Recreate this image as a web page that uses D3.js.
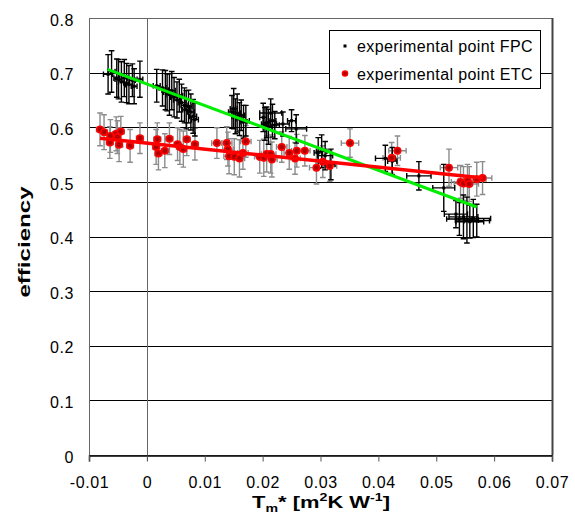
<!DOCTYPE html>
<html>
<head>
<meta charset="utf-8">
<script src="https://cdn.jsdelivr.net/npm/d3@7"></script>
<style>
  body { margin: 0; background: #fff; }
  text { font-family: "Liberation Sans", Arial, sans-serif; fill: #000; }
</style>
</head>
<body>
<svg id="chart" width="575" height="525"></svg>
<script>
// ---- axis ticks ----
const xTicks = [-0.01, 0, 0.01, 0.02, 0.03, 0.04, 0.05, 0.06, 0.07];
const xTickLabels = ["-0.01", "0", "0.01", "0.02", "0.03", "0.04", "0.05", "0.06", "0.07"];
const yTicks = [0, 0.1, 0.2, 0.3, 0.4, 0.5, 0.6, 0.7, 0.8];
const yTickLabels = ["0", "0.1", "0.2", "0.3", "0.4", "0.5", "0.6", "0.7", "0.8"];

// ---- flat plate collector (FPC) measurements ----
const fpcX = [-0.0067, -0.0061, -0.0052, -0.0049, -0.0044, -0.0039, -0.0035, -0.0031, -0.0025, -0.0022, -0.0012,
  0.0017, 0.0027, 0.0032, 0.0035, 0.0039, 0.0043, 0.0047, 0.0052, 0.0056, 0.0060, 0.0065, 0.0068, 0.0072, 0.0076, 0.0080, 0.0083,
  0.0147, 0.0150, 0.0153, 0.0156, 0.0160, 0.0163, 0.0167, 0.0171,
  0.0201, 0.0204, 0.0207, 0.0210, 0.0214, 0.0217, 0.0221, 0.0235, 0.0250, 0.0258,
  0.0296, 0.0302, 0.0308, 0.0318,
  0.0412, 0.0424, 0.0470,
  0.0513, 0.0534, 0.0540, 0.0547, 0.0553, 0.0558, 0.0564, 0.0570];
const fpcY = [0.697, 0.702, 0.690, 0.688, 0.683, 0.690, 0.681, 0.678, 0.686, 0.675, 0.688,
  0.676, 0.672, 0.668, 0.664, 0.660, 0.667, 0.655, 0.650, 0.658, 0.645, 0.640, 0.632, 0.638, 0.628, 0.620, 0.614,
  0.628, 0.634, 0.620, 0.626, 0.615, 0.622, 0.610, 0.612,
  0.618, 0.606, 0.609, 0.601, 0.626, 0.612, 0.604, 0.606, 0.612, 0.597,
  0.553, 0.556, 0.548, 0.532,
  0.543, 0.538, 0.511,
  0.489, 0.441, 0.432, 0.436, 0.430, 0.427, 0.433, 0.429];
const fpcXErr = [0.0008, 0.0006, 0.0005, 0.0006, 0.0005, 0.0005, 0.0005, 0.0006, 0.0005, 0.0005, 0.0005,
  0.0006, 0.0006, 0.0006, 0.0006, 0.0006, 0.0006, 0.0006, 0.0006, 0.0006, 0.0006, 0.0006, 0.0006, 0.0006, 0.0006, 0.0006, 0.0006,
  0.0006, 0.0006, 0.0006, 0.0006, 0.0006, 0.0006, 0.0006, 0.0006,
  0.0006, 0.0006, 0.0006, 0.0006, 0.0019, 0.0006, 0.0008, 0.0011, 0.0007, 0.0018,
  0.0007, 0.0009, 0.0013, 0.0007,
  0.0017, 0.0008, 0.0021,
  0.0019, 0.0020, 0.0022, 0.0025, 0.0020, 0.0024, 0.0030, 0.0022];
const fpcYErr = [0.036, 0.038, 0.035, 0.036, 0.037, 0.034, 0.036, 0.035, 0.030, 0.032, 0.033,
  0.030, 0.033, 0.036, 0.034, 0.038, 0.035, 0.036, 0.033, 0.030, 0.034, 0.032, 0.035, 0.030, 0.033, 0.031, 0.030,
  0.030, 0.037, 0.032, 0.035, 0.030, 0.028, 0.030, 0.028,
  0.026, 0.030, 0.028, 0.032, 0.026, 0.030, 0.025, 0.022, 0.020, 0.026,
  0.028, 0.030, 0.026, 0.028,
  0.024, 0.025, 0.026,
  0.043, 0.025, 0.030, 0.040, 0.042, 0.030, 0.035, 0.030];

// ---- evacuated tube collector (ETC) measurements ----
const etcX = [-0.0081, -0.0074, -0.0063, -0.0053, -0.0045, -0.0051, -0.0064, -0.0048, -0.0029, -0.0012,
  0.0018, 0.0016, 0.0020, 0.0031, 0.0039, 0.0053, 0.0057, 0.0063, 0.0069, 0.0083,
  0.0121, 0.0138, 0.0140, 0.0142, 0.0151, 0.0160, 0.0166, 0.0171, 0.0195, 0.0202, 0.0207, 0.0214, 0.0216, 0.0233, 0.0246, 0.0256, 0.0259, 0.0273,
  0.0293, 0.0304, 0.0316, 0.0351, 0.0423, 0.0433,
  0.0522, 0.0542, 0.0547, 0.0554, 0.0557, 0.0570, 0.0580];
const etcY = [0.596, 0.591, 0.584, 0.588, 0.592, 0.582, 0.572, 0.568, 0.566, 0.580,
  0.578, 0.564, 0.552, 0.557, 0.579, 0.569, 0.564, 0.560, 0.578, 0.569,
  0.571, 0.571, 0.560, 0.547, 0.546, 0.543, 0.553, 0.574, 0.546, 0.544, 0.551, 0.551, 0.541, 0.564, 0.553, 0.543, 0.557, 0.557,
  0.526, 0.537, 0.529, 0.571, 0.544, 0.557,
  0.526, 0.500, 0.497, 0.502, 0.496, 0.505, 0.507];
const etcXErr = [0.0006, 0.0006, 0.0006, 0.0006, 0.0006, 0.0006, 0.0006, 0.0006, 0.0006, 0.0006,
  0.0006, 0.0006, 0.0006, 0.0006, 0.0006, 0.0006, 0.0006, 0.0006, 0.0006, 0.0006,
  0.0009, 0.0009, 0.0009, 0.0009, 0.0009, 0.0009, 0.0009, 0.0009, 0.0009, 0.0009, 0.0009, 0.0009, 0.0009, 0.0009, 0.0009, 0.0009, 0.0009, 0.0009,
  0.0012, 0.0012, 0.0012, 0.0015, 0.0015, 0.0015,
  0.0015, 0.0016, 0.0016, 0.0016, 0.0016, 0.0016, 0.0016];
const etcYErr = [0.030, 0.032, 0.030, 0.031, 0.028, 0.030, 0.029, 0.031, 0.030, 0.028,
  0.030, 0.032, 0.030, 0.031, 0.029, 0.030, 0.032, 0.033, 0.030, 0.029,
  0.028, 0.030, 0.031, 0.032, 0.033, 0.034, 0.030, 0.029, 0.030, 0.034, 0.033, 0.035, 0.032, 0.028, 0.030, 0.029, 0.030, 0.028,
  0.030, 0.029, 0.028, 0.026, 0.028, 0.027,
  0.034, 0.030, 0.031, 0.030, 0.032, 0.031, 0.030];

// ---- linear fits (end points) ----
const fitFpcX = [-0.0068, 0.0570];
const fitFpcY = [0.706, 0.454];
const fitEtcX = [-0.0081, 0.0581];
const fitEtcY = [0.580, 0.507];

// ---- legend ----
const legendLabels = ["experimental point FPC", "experimental point ETC"];

// ---- drawing ----
const svg = d3.select("#chart");
const plotL = 89, plotR = 552, plotT = 18, plotB = 455;

const x = d3.scaleLinear().domain([-0.01, 0.07]).range([plotL, plotR]);
const y = d3.scaleLinear().domain([0, 0.8]).range([plotB, plotT]);

// horizontal grid lines
svg.append("g")
  .selectAll("line")
  .data(yTicks.filter(v => v > 0 && v < 0.8))
  .join("line")
  .attr("x1", plotL).attr("x2", plotR)
  .attr("y1", d => Math.round(y(d)) + 0.5).attr("y2", d => Math.round(y(d)) + 0.5)
  .attr("stroke", "#000").attr("stroke-width", 1);

// plot border
svg.append("rect")
  .attr("x", plotL + 0.5).attr("y", plotT + 0.5)
  .attr("width", plotR - plotL).attr("height", plotB - plotT)
  .attr("fill", "none").attr("stroke", "#666").attr("stroke-width", 1);
svg.append("line")
  .attr("x1", plotR + 0.5).attr("x2", plotR + 0.5)
  .attr("y1", plotT).attr("y2", plotB)
  .attr("stroke", "#444").attr("stroke-width", 2);

// vertical line at zero
svg.append("line")
  .attr("x1", Math.round(x(0)) + 0.5).attr("x2", Math.round(x(0)) + 0.5)
  .attr("y1", plotT).attr("y2", plotB + 6)
  .attr("stroke", "#666").attr("stroke-width", 1);

// x axis
const xAxis = d3.axisBottom(x)
  .tickValues(xTicks)
  .tickFormat((d, i) => xTickLabels[i])
  .tickSize(6)
  .tickPadding(15);
const gx = svg.append("g").attr("transform", `translate(0,${plotB + 0.5})`).call(xAxis);
gx.select(".domain").attr("stroke", "#000").attr("stroke-width", 1.5);
gx.selectAll(".tick line").attr("stroke", "#555");
gx.selectAll(".tick text")
  .attr("font-size", 16).attr("letter-spacing", "0.6px")
  .attr("font-family", "Liberation Sans, Arial, sans-serif").attr("fill", "#000");

// y axis labels
const yAxis = d3.axisLeft(y)
  .tickValues(yTicks)
  .tickFormat((d, i) => yTickLabels[i])
  .tickSize(0)
  .tickPadding(15);
const gy = svg.append("g").attr("transform", `translate(${plotL},0)`).call(yAxis);
gy.select(".domain").remove();
gy.selectAll(".tick text")
  .attr("font-size", 16).attr("letter-spacing", "0.6px").attr("dy", "0.45em")
  .attr("font-family", "Liberation Sans, Arial, sans-serif").attr("fill", "#000");

// error bars
function errorBars(xs, ys, xe, ye, color) {
  const g = svg.append("g").attr("stroke", color).attr("stroke-width", 1.4).attr("fill", "none");
  const cap = 2.8;
  xs.forEach((xv, i) => {
    const cx = x(xv), cy = y(ys[i]);
    const y0 = y(ys[i] - ye[i]), y1 = y(ys[i] + ye[i]);
    const x0 = x(xv - xe[i]), x1 = x(xv + xe[i]);
    g.append("path").attr("d",
      `M${cx},${y0}V${y1}` +
      `M${cx - cap},${y0}H${cx + cap}M${cx - cap},${y1}H${cx + cap}` +
      `M${x0},${cy}H${x1}` +
      `M${x0},${cy - cap}V${cy + cap}M${x1},${cy - cap}V${cy + cap}`);
  });
}
errorBars(etcX, etcY, etcXErr, etcYErr, "#8c8c8c");
errorBars(fpcX, fpcY, fpcXErr, fpcYErr, "#000");

// FPC markers
svg.append("g").selectAll("rect")
  .data(fpcX.map((v, i) => [v, fpcY[i]]))
  .join("rect")
  .attr("x", d => x(d[0]) - 1.5).attr("y", d => y(d[1]) - 1.5)
  .attr("width", 3).attr("height", 3).attr("fill", "#000");

// ETC markers
svg.append("g").selectAll("circle")
  .data(etcX.map((v, i) => [v, etcY[i]]))
  .join("circle")
  .attr("cx", d => x(d[0])).attr("cy", d => y(d[1]))
  .attr("r", 3.2)
  .attr("fill", "#b00000").attr("stroke", "#ff0000").attr("stroke-width", 1.6);

// fitted lines
const line = d3.line().x(d => x(d[0])).y(d => y(d[1]));
svg.append("path")
  .datum(fitFpcX.map((v, i) => [v, fitFpcY[i]]))
  .attr("d", line).attr("stroke", "#00ee00").attr("stroke-width", 3).attr("fill", "none");
svg.append("path")
  .datum(fitEtcX.map((v, i) => [v, fitEtcY[i]]))
  .attr("d", line).attr("stroke", "#ff0000").attr("stroke-width", 3.5).attr("fill", "none");

// legend
const lg = svg.append("g");
lg.append("rect").attr("x", 329.5).attr("y", 30.5).attr("width", 211).attr("height", 58)
  .attr("fill", "#fff").attr("stroke", "#000").attr("stroke-width", 1);
lg.append("rect").attr("x", 343.5).attr("y", 44.5).attr("width", 3).attr("height", 3).attr("fill", "#000");
lg.append("circle").attr("cx", 345).attr("cy", 73.5).attr("r", 2.6)
  .attr("fill", "#b00000").attr("stroke", "#ff0000").attr("stroke-width", 1.4);
lg.selectAll("text.lab").data(legendLabels).join("text").attr("class", "lab")
  .attr("x", 357).attr("y", (d, i) => 52 + i * 28)
  .attr("font-size", 16).attr("letter-spacing", "0.4px")
  .text(d => d);

// axis titles, stretched to the wide lettering of the layout
function stretch(sel, targetWidth, cx, cy, rotate) {
  const w = sel.node().getBBox().width;
  const k = targetWidth / w;
  sel.attr("transform", `translate(${cx},${cy})${rotate ? " rotate(-90)" : ""} scale(${k},1)`);
}

const yTitle = svg.append("text")
  .attr("text-anchor", "middle").attr("font-weight", "bold").attr("font-size", 17)
  .text("efficiency");
stretch(yTitle, 112, 30, 242, true);

const xTitle = svg.append("text")
  .attr("text-anchor", "middle").attr("font-weight", "bold").attr("font-size", 17);
xTitle.append("tspan").text("T");
xTitle.append("tspan").attr("font-size", 11).attr("dy", 4).text("m");
xTitle.append("tspan").attr("dy", -4).text("* [m");
xTitle.append("tspan").attr("font-size", 11).attr("dy", -7).text("2");
xTitle.append("tspan").attr("dy", 7).text("K W");
xTitle.append("tspan").attr("font-size", 11).attr("dy", -7).text("-1");
xTitle.append("tspan").attr("dy", 7).text("]");
stretch(xTitle, 138, 321, 508, false);
</script>
</body>
</html>
